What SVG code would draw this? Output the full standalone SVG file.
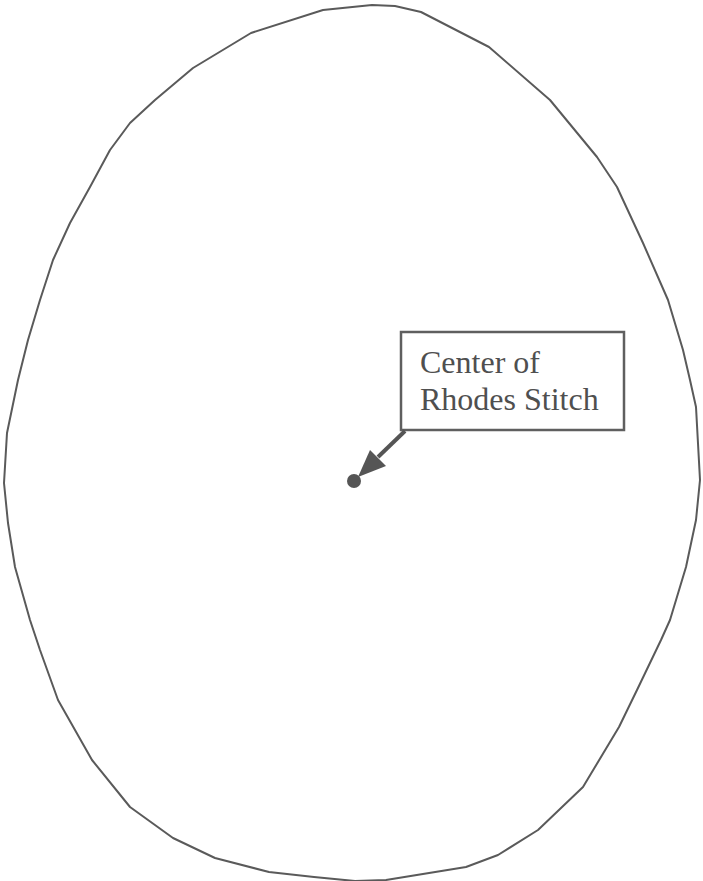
<svg xmlns="http://www.w3.org/2000/svg" width="703" height="881" viewBox="0 0 703 881">
<style>
.outline{fill:none;stroke:#5a5a5a;stroke-width:2;stroke-linejoin:round}
.box{fill:#fff;stroke:#5f5f5f;stroke-width:2.5}
.lbl{font-family:"Liberation Serif","Times New Roman",serif;font-size:32px;fill:#4f4f4f}
.conn{stroke:#555;stroke-width:4;fill:none}
</style>
<rect width="703" height="881" fill="#fff"/>
<g id="egg">
<path class="outline" d="M372,5 L395,6 L421,12 L489,47 L550,100 L597,157 L617,187 L643,243 L668,300 L683,350 L690,380 L696,407 L700,480 L696,520 L686,567 L670,620 L661,640 L637,690 L619,727 L583,787 L538,830 L498,855 L466,867 L386,880 L355,881 L314,877 L269,872 L215,858 L173,838 L130,807 L92,760 L58,700 L40,650 L30,620 L15,567 L8,523 L4,483 L7,433 L18,380 L28,340 L40,300 L53,260 L70,223 L90,187 L110,150 L130,123 L155,100 L193,68 L251,33 L323,10 Z"/>
</g>
<g id="center">
<circle cx="354" cy="481" r="7" fill="#555"/>
</g>
<g id="label">
<rect class="box" x="401" y="332" width="223" height="98"/>
<text class="lbl" x="420" y="373">Center of</text>
<text class="lbl" x="420" y="410">Rhodes Stitch</text>
</g>
<g id="connectors">
<line class="conn" x1="405" y1="431" x2="378" y2="457"/>
<path d="M358,477 L370,450 L386,466 Z" fill="#555"/>
</g>
</svg>
